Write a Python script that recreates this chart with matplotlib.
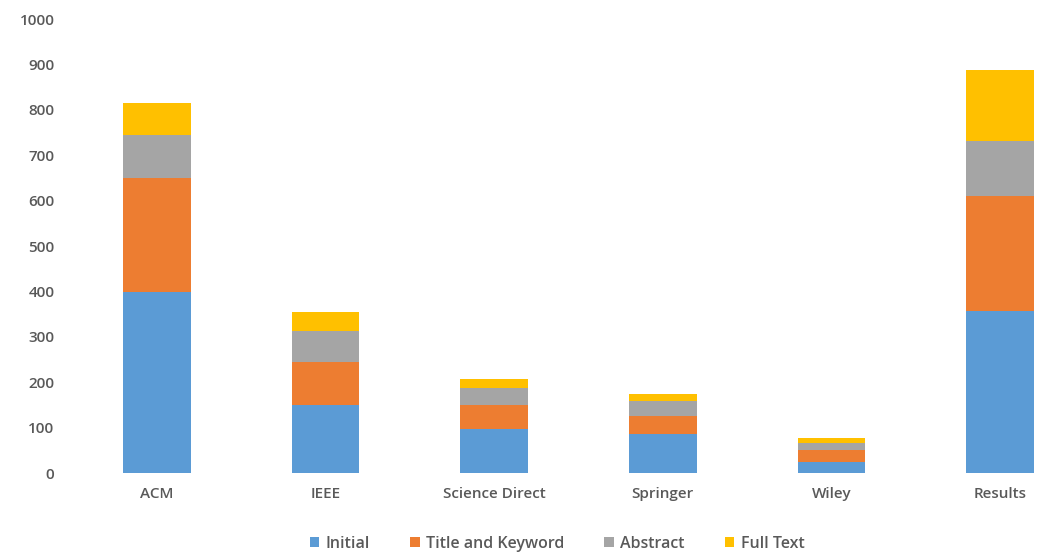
import numpy as np
import matplotlib
matplotlib.use("Agg")
import matplotlib.pyplot as plt

plt.rcParams['font.family'] = ['Open Sans', 'DejaVu Sans']
plt.rcParams['font.weight'] = 'semibold'

sources = ["ACM", "IEEE", "Science Direct", "Springer", "Wiley", "Results"]
initial = [400, 150, 97, 86, 25, 357]
title_keyword = [250, 95, 54, 40, 27, 253]
abstract = [95, 68, 36, 32, 15, 121]
full_text = [70, 42, 20, 17, 11, 157]

series = [
    ("Initial", initial, "#5B9BD5"),
    ("Title and Keyword", title_keyword, "#ED7D31"),
    ("Abstract", abstract, "#A5A5A5"),
    ("Full Text", full_text, "#FFC000"),
]

fig = plt.figure(figsize=(10.49, 5.56), dpi=100)
ax = fig.add_axes([72.5 / 1049, 0.149, 1012 / 1049, 0.8165])

x = np.arange(len(sources))
bottom = np.zeros(len(sources))
for name, vals, col in series:
    ax.bar(x, vals, width=0.4, bottom=bottom, color=col, label=name)
    bottom += np.array(vals)

ax.set_xlim(-0.5, 5.5)
ax.set_ylim(0, 1000)
ax.set_yticks(range(0, 1001, 100))
ax.set_xticks(x)
ax.set_xticklabels(sources)
ax.tick_params(axis="both", length=0, colors="#595959", labelsize=11)
ax.tick_params(axis="y", pad=13)
ax.tick_params(axis="x", pad=10)
for s in ["top", "right", "left", "bottom"]:
    ax.spines[s].set_visible(False)

fig.legend(loc="center", bbox_to_anchor=(557 / 1049, 1 - 544 / 556), ncol=4,
           frameon=False, fontsize=11.5, handlelength=0.6, handleheight=0.6,
           columnspacing=2.5, handletextpad=0.4, labelcolor="#595959")

fig.savefig("out.png", dpi=100)
